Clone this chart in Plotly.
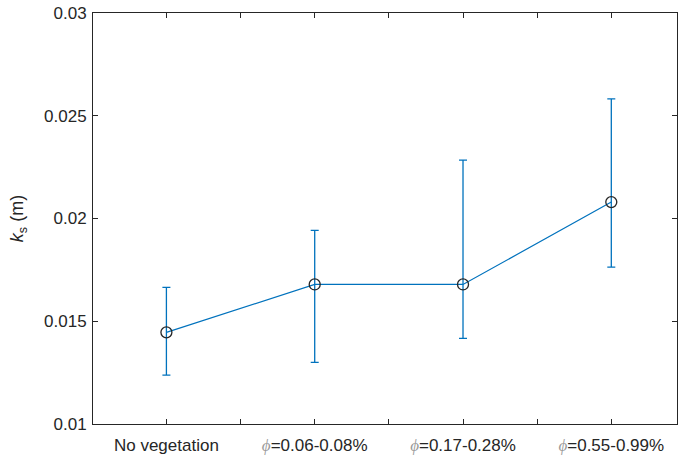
import plotly.graph_objects as go

categories = ["No vegetation", "ϕ=0.06-0.08%", "ϕ=0.17-0.28%", "ϕ=0.55-0.99%"]
ks_mean = [0.01446, 0.01679, 0.01679, 0.02080]
ks_upper = [0.01665, 0.01942, 0.02284, 0.02582]
ks_lower = [0.01238, 0.01300, 0.01417, 0.01763]
y_ticks = [0.01, 0.015, 0.02, 0.025, 0.03]

x_pos = list(range(1, len(categories) + 1))
err_plus = [u - m for u, m in zip(ks_upper, ks_mean)]
err_minus = [m - l for m, l in zip(ks_mean, ks_lower)]

def fmt_label(c):
    if c.startswith("ϕ"):
        return ("<span style='font-family:\"Liberation Serif\"; color:#9a9a9a'><i>ϕ</i></span>"
                + c[1:])
    return c

fig = go.Figure()
fig.add_trace(go.Scatter(
    x=x_pos, y=ks_mean, mode="lines",
    line=dict(color="#0072BD", width=1.2),
    error_y=dict(type="data", symmetric=False, array=err_plus, arrayminus=err_minus,
                 color="#0072BD", thickness=1.3, width=4),
    showlegend=False, hoverinfo="skip",
))
fig.add_trace(go.Scatter(
    x=x_pos, y=ks_mean, mode="markers",
    marker=dict(symbol="circle-open", size=11, color="#262626", line=dict(width=1.3, color="#262626")),
    showlegend=False,
))

axis_common = dict(
    showline=True, linecolor="#262626", linewidth=1, mirror="ticks",
    ticks="inside", ticklen=5, tickcolor="#262626", tickwidth=1,
    showgrid=False, zeroline=False,
    tickfont=dict(family="Liberation Sans, Arial", size=17, color="#262626"),
)

fig.update_layout(
    width=678, height=457,
    margin=dict(l=93, r=1, t=13, b=33),
    paper_bgcolor="white", plot_bgcolor="white",
    xaxis=dict(range=[0.505, 4.443], tickvals=x_pos,
               ticktext=[fmt_label(c) for c in categories],
               minor=dict(tickvals=[1.5, 2.5, 3.5], ticks="inside", ticklen=5,
                          tickcolor="#262626", tickwidth=1),
               ticklabelstandoff=6,
               **axis_common),
    yaxis=dict(range=[0.01, 0.03], tickvals=y_ticks,
               ticktext=[("%g" % v) for v in y_ticks],
               ticklabelstandoff=2,
               title=dict(text="<i>k</i><sub>s</sub> (m)", standoff=15,
                          font=dict(family="Liberation Sans, Arial", size=18, color="#262626")),
               **axis_common),
)

fig.write_html("out.html")
